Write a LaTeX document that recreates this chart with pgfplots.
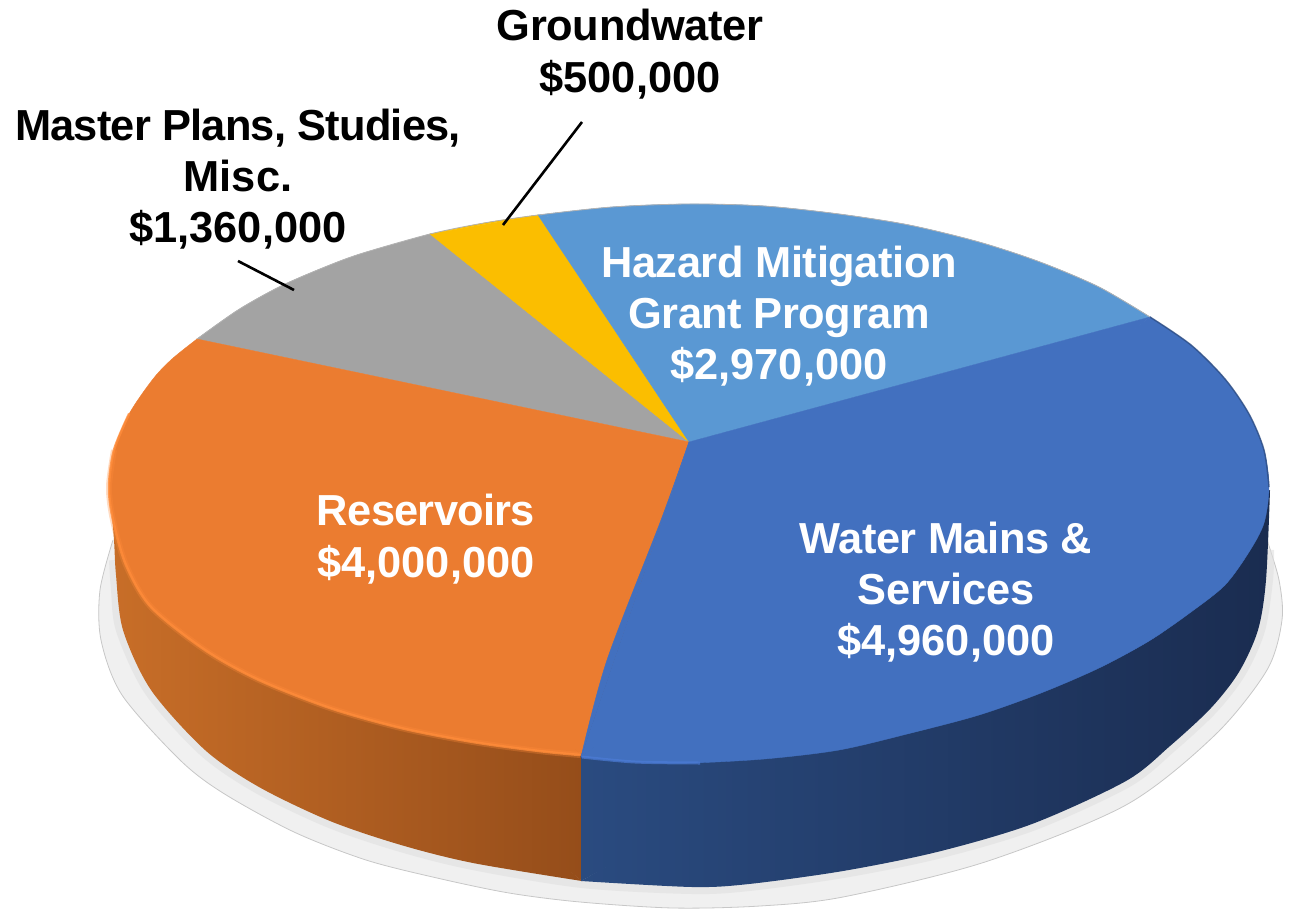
\documentclass[border=0pt]{standalone}
\usepackage{fontspec}
\setmainfont{Liberation Sans}
\usepackage{pgfplots}
\pgfplotsset{compat=1.18}
\definecolor{cOrange}{HTML}{EB7C30}
\definecolor{cBlue}{HTML}{4270BF}
\definecolor{cLight}{HTML}{5A98D3}
\definecolor{cGrey}{HTML}{A3A3A3}
\definecolor{cYellow}{HTML}{FBBE00}
\definecolor{hiOrange}{HTML}{FF8C3A}
\definecolor{hiBlue}{HTML}{4C7CD6}
\newcommand{\tight}[2]{{\addfontfeature{LetterSpace=#1}#2}}
\tikzset{
  lab/.style={font=\fontsize{43.4}{51.3}\selectfont\bfseries,align=center,inner sep=0pt},
  wallO/.style={draw=none,left color={rgb,255:red,200;green,110;blue,40},
    middle color={rgb,255:red,184;green,98;blue,34},right color={rgb,255:red,149;green,77;blue,26}},
  wallB/.style={draw=none,left color={rgb,255:red,42;green,75;blue,128},
    middle color={rgb,255:red,26;green,44;blue,80},right color={rgb,255:red,26;green,44;blue,80}},
}
\begin{document}
\begin{tikzpicture}
\begin{axis}[
  width=1299pt,height=910pt,scale only axis,
  xmin=0,xmax=1299,ymin=0,ymax=910,y dir=reverse,
  hide axis,clip=false,
]
% hide axis leaves the box tight on the drawing, so hold the full canvas
\path (axis cs:0,0) rectangle (axis cs:1299,910);
% drop shadow under the pie
\addplot[smooth,fill=black!6,draw=black!22,line width=0.8pt] coordinates {
  (113,540) (100,590) (101,640) (122,695) (180,760) (223,793) (294,832) (366,860)
  (437,878) (509,893) (580,902) (673,908) (760,906) (843,897) (985,862) (1126,805)
  (1215,735) (1267,670) (1282,620) (1279,580) (1267,540)};
\addplot[smooth,draw=black!12,line width=14pt,opacity=0.6] coordinates {
  (116,560) (118,590) (123,630) (151,690) (205,750) (259,787) (330,821) (401,845) (473,863) (582,881)
  (692,887) (749,884) (843,871) (937,852) (1032,824) (1126,781) (1170,746) (1211,708)
  (1239,672) (1258,630) (1266,580) (1267,550)};
% side walls: curved lower edge plus a polygon with the same x range, so the shading lines up
\addplot[smooth,wallO] coordinates {
  (110,490) (114,540) (116,575) (123,630) (151,690) (205,750) (259,787) (330,821)
  (401,845) (473,863) (582,881)};
\addplot[sharp plot,wallO] coordinates {(110,490) (340,692) (582,881) (582,500) (110,490)};
\addplot[smooth,wallB] coordinates {
  (581,881) (692,887) (749,884) (843,871) (937,852) (1032,824) (1126,781) (1170,746) (1211,708)
  (1239,672) (1258,630) (1266,580) (1270,490)};
\addplot[sharp plot,wallB] coordinates {(581,881) (930,692) (1270,490) (581,500) (581,881)};
% top face: wedge from the centre plus the curved rim of each slice
\addplot[sharp plot,fill=cGrey,draw=cGrey,line width=0.4pt] coordinates {(689,442) (197,339) (311,281) (430,234) (689,442)};
\addplot[smooth,fill=cGrey,draw=cGrey,line width=0.4pt] coordinates {(197,339) (238,310) (279,287) (320,269) (360,254) (430,234)};
\addplot[sharp plot,fill=cYellow,draw=cYellow,line width=0.4pt] coordinates {(689,442) (430,234) (538,215) (689,442)};
\addplot[smooth,fill=cYellow,draw=cYellow,line width=0.4pt] coordinates {(430,234) (484,223) (538,215)};
\addplot[sharp plot,fill=cLight,draw=cLight,line width=0.4pt] coordinates {(689,442) (538,215) (845,258) (1150,317) (689,442)};
\addplot[smooth,fill=cLight,draw=cLight,line width=0.4pt] coordinates {
  (538,215) (612,207) (689,204) (764,206) (839,214) (909,225) (979,242) (1040,262) (1099,287) (1150,317)};
\addplot[sharp plot,fill=cOrange,draw=cOrange,line width=0.4pt] coordinates {(689,442) (197,339) (382,553) (581,755) (689,442)};
\addplot[smooth,fill=cOrange,draw=cOrange,line width=0.4pt] coordinates {
  (197,339) (172,359) (153,379) (129,414) (114,450) (109,487) (113,520) (126,565) (151,607)
  (205,650) (259,680) (330,708) (401,728) (473,742) (539,751) (581,755)};
\addplot[sharp plot,fill=cBlue,draw=cBlue,line width=0.4pt] coordinates {(689,442) (1150,317) (872,545) (581,757) (689,442)};
\addplot[smooth,fill=cBlue,draw=cBlue,line width=0.4pt] coordinates {
  (1150,317) (1191,345) (1225,379) (1249,414) (1264,450) (1269,487) (1264,523) (1249,552)
  (1225,585) (1191,612) (1149,641) (1099,668) (1041,693) (979,715) (911,733) (839,750)
  (764,759) (689,763) (635,762) (581,757)};
\addplot[smooth,fill=cBlue,draw=cBlue,line width=0.4pt] coordinates {(581,757) (607,660) (661,520) (689,442)};
% rim highlights and the thin grey top edge
\addplot[smooth,draw=hiOrange,line width=6pt,opacity=0.3] coordinates {
  (114,450) (109,487) (113,520) (126,565) (151,607)
  (205,650) (259,680) (330,708) (401,728) (473,742) (539,751) (580,755)};
\addplot[smooth,draw=hiOrange,line width=2.5pt,opacity=0.8,line cap=round] coordinates {
  (129,414) (114,450) (109,487) (113,520) (126,565) (151,607)
  (205,650) (259,680) (330,708) (401,728) (473,742) (539,751) (580,755)};
\addplot[smooth,draw=hiBlue,line width=3pt,opacity=0.7] coordinates {(582,757) (635,762) (700,763)};
\addplot[smooth,draw=black!35!cBlue,line width=1.5pt,opacity=0.7] coordinates {
  (1150,317) (1191,345) (1225,379) (1249,414) (1264,450) (1269,487)};
\addplot[smooth,draw=black!30,line width=0.8pt] coordinates {
  (197,339) (238,310) (279,287) (320,269) (360,254) (430,234) (484,223) (538,215) (612,207)
  (689,204) (764,206) (839,214) (909,225) (979,242) (1040,262) (1099,287) (1150,317)};
% leader lines
\addplot[black,line width=2.6pt] coordinates {(582,122) (503,225)};
\addplot[black,line width=2.6pt] coordinates {(238,261) (294,290)};
% labels
\node[lab,text=black] at (axis cs:630,54) {\tight{-0.8}{Groundwater}\\\$500,000};
\node[lab,text=black] at (axis cs:238,179) {\tight{-1.8}{Master Plans, Studies,}\\Misc.\\\$1,360,000};
\node[lab,text=white] at (axis cs:779,316) {\tight{-0.95}{Hazard Mitigation}\\\tight{-0.95}{Grant Program}\\\$2,970,000};
\node[lab,text=white] at (axis cs:946,592) {\tight{-1.15}{Water Mains \&}\\\tight{-0.6}{Services}\\\$4,960,000};
\node[lab,text=white] at (axis cs:426,539) {\tight{-1.6}{Reservoirs}\\\$4,000,000};
\end{axis}
\end{tikzpicture}
\end{document}
